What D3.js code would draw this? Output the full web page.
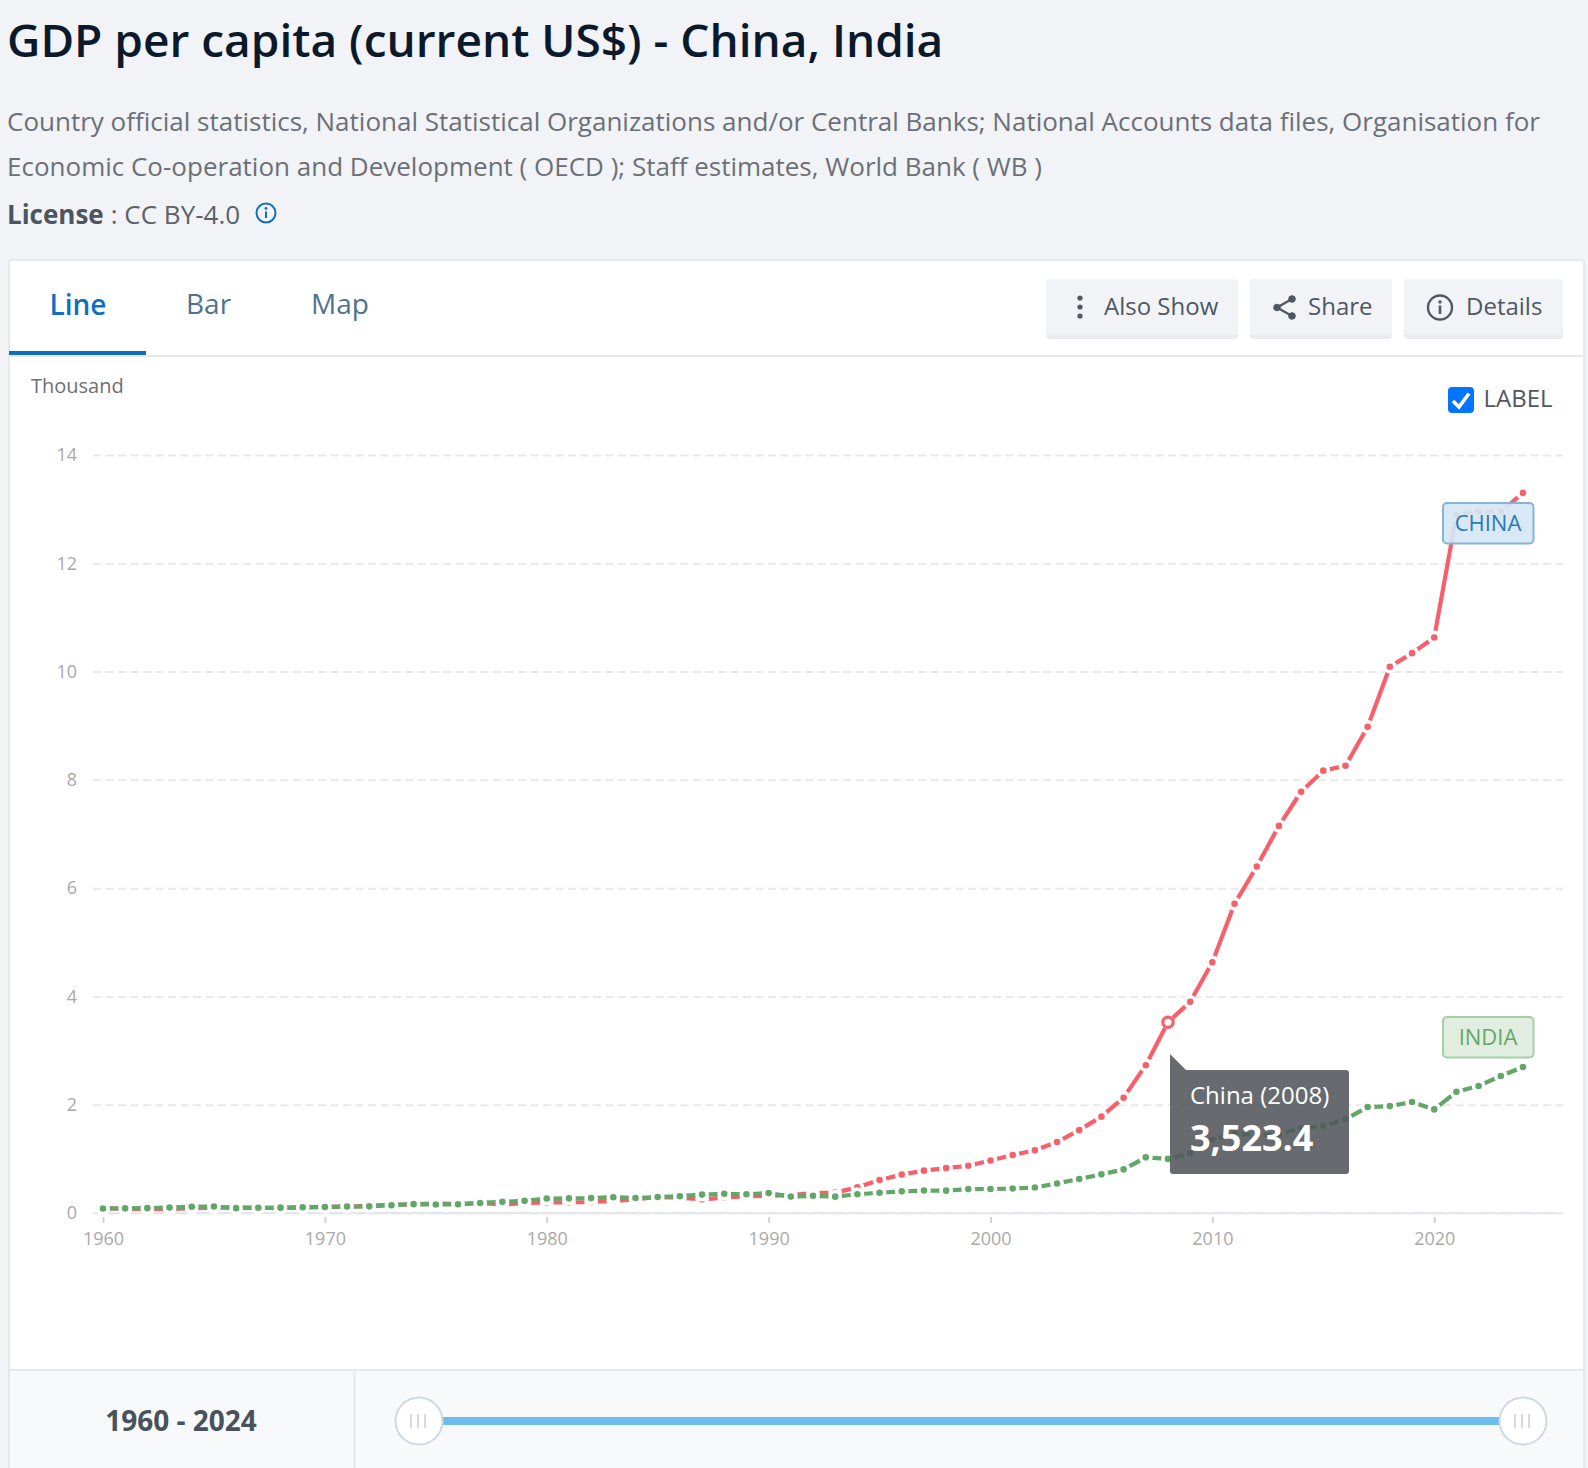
<!DOCTYPE html>
<html>
<head>
<meta charset="utf-8">
<script src="https://cdn.jsdelivr.net/npm/d3@7"></script>
<style>
html,body{margin:0;padding:0;background:#f1f3f7;overflow:hidden}
svg{display:block}
text{font-family:"Open Sans",sans-serif}
</style>
</head>
<body>
<svg id="c" width="1588" height="1468"></svg>
<script>
const years = d3.range(1960, 2025);
const chinaValues = [0.090,0.076,0.071,0.074,0.086,0.099,0.104,0.097,0.092,0.100,0.113,0.119,0.132,0.157,0.160,0.178,0.165,0.185,0.156,0.184,0.195,0.197,0.203,0.225,0.251,0.295,0.283,0.252,0.284,0.311,0.318,0.333,0.367,0.377,0.474,0.610,0.709,0.782,0.829,0.873,0.970,1.070,1.160,1.310,1.530,1.780,2.130,2.730,3.5234,3.900,4.630,5.710,6.400,7.150,7.780,8.170,8.260,8.980,10.090,10.340,10.630,12.890,12.960,12.950,13.300];
const indiaValues = [0.083,0.086,0.090,0.101,0.116,0.119,0.090,0.096,0.099,0.107,0.112,0.119,0.123,0.144,0.163,0.158,0.161,0.186,0.206,0.224,0.267,0.271,0.275,0.292,0.277,0.296,0.310,0.340,0.355,0.346,0.368,0.303,0.317,0.302,0.346,0.374,0.400,0.415,0.413,0.441,0.443,0.452,0.471,0.546,0.627,0.714,0.806,1.028,0.999,1.102,1.358,1.458,1.444,1.450,1.574,1.606,1.733,1.957,1.974,2.050,1.913,2.239,2.347,2.530,2.697];
const xTicks = [1960,1970,1980,1990,2000,2010,2020];
const yTicks = [0,2,4,6,8,10,12,14];
const tabs = ["Line","Bar","Map"];
const descLines = ["Country official statistics, National Statistical Organizations and/or Central Banks; National Accounts data files, Organisation for","Economic Co-operation and Development ( OECD ); Staff estimates, World Bank ( WB )"];

const svg = d3.select("#c");
const FONT = '"Open Sans",sans-serif';
const txt = (g,s,x,y,size,fill,weight,anchor)=>g.append("text").text(s).attr("x",x).attr("y",y)
  .attr("font-size",size).attr("fill",fill).attr("font-weight",weight||400).attr("text-anchor",anchor||"start");

// page header
svg.append("rect").attr("width",1588).attr("height",1468).attr("fill","#f1f3f7");
txt(svg,"GDP per capita (current US$) - China, India",7,57,46,"#0b1a2b",600);
txt(svg,descLines[0],7,131,26,"#6b7076");
txt(svg,descLines[1],7,176,26,"#6b7076");
txt(svg,"License",7,224,26,"#4a5560",700);
txt(svg," : CC BY-4.0",104,224,26,"#5b6269").attr("xml:space","preserve");
const info = svg.append("g").attr("transform","translate(266,213)");
info.append("circle").attr("r",9.5).attr("fill","none").attr("stroke","#1170c0").attr("stroke-width",2);
info.append("circle").attr("cy",-4.5).attr("r",1.4).attr("fill","#1170c0");
info.append("line").attr("y1",-1.5).attr("y2",5).attr("stroke","#1170c0").attr("stroke-width",2);

// card
svg.append("rect").attr("x",9).attr("y",260).attr("width",1575).attr("height",1220).attr("rx",3)
  .attr("fill","#fff").attr("stroke","#e5e9ed").attr("stroke-width",2);
svg.append("rect").attr("x",9).attr("y",355).attr("width",1575).attr("height",2).attr("fill","#e5e9ed");
svg.append("rect").attr("x",9).attr("y",351).attr("width",137).attr("height",4).attr("fill","#0f6fbf");
txt(svg,tabs[0],49.5,314.500,28,"#0f6fbf",600);
txt(svg,tabs[1],186,314,28,"#4e7290");
txt(svg,tabs[2],311,314,28,"#4e7290");

// buttons
const btn = (x0,x1,label,tx)=>{
  svg.append("rect").attr("x",x0).attr("y",279).attr("width",x1-x0).attr("height",60).attr("rx",4).attr("fill","#e9ebef");
  svg.append("rect").attr("x",x0).attr("y",279).attr("width",x1-x0).attr("height",56).attr("rx",4).attr("fill","#f1f3f7");
  txt(svg,label,tx,315,24,"#4f5862");
};
btn(1046,1238,"Also Show",1104);
btn(1250,1392,"Share",1308);
btn(1404,1563,"Details",1466);
[-9,0,9].forEach(d=>svg.append("circle").attr("cx",1080).attr("cy",307+d).attr("r",2.6).attr("fill","#4f5862"));
const sh = svg.append("g").attr("stroke","#4f5862").attr("fill","#4f5862");
sh.append("path").attr("d","M1292 299L1277 307.5L1292 316").attr("fill","none").attr("stroke-width",2.4);
[[1292,299],[1277,307.5],[1292,316]].forEach(p=>sh.append("circle").attr("cx",p[0]).attr("cy",p[1]).attr("r",3.3));
const inf2 = svg.append("g").attr("transform","translate(1440,307.5)");
inf2.append("circle").attr("r",12).attr("fill","none").attr("stroke","#4f5862").attr("stroke-width",2.4);
inf2.append("circle").attr("cy",-5.5).attr("r",1.7).attr("fill","#4f5862");
inf2.append("line").attr("y1",-2).attr("y2",6.5).attr("stroke","#4f5862").attr("stroke-width",2.6);

// label checkbox + unit
svg.append("rect").attr("x",1448).attr("y",387).attr("width",26).attr("height",26).attr("rx",4).attr("fill","#0075ff");
svg.append("path").attr("d","M1453 401L1459 407L1469 393.500").attr("fill","none").attr("stroke","#fff").attr("stroke-width",3.6);
txt(svg,"LABEL",1483.5,407,24,"#4f5862");
txt(svg,"Thousand",31,393,20,"#6f6f6f");

// scales and axes
const gridLeft = 93, gridRight = 1563;
const x = d3.scaleLinear().domain([1960,2024]).range([103,1523]);
const y = d3.scaleLinear().domain([0,14]).range([1213,455]);

const yAxis = svg.append("g").attr("transform",`translate(${gridLeft},0)`)
  .call(d3.axisLeft(y).tickValues(yTicks).tickFormat(d3.format("d")).tickSize(-(gridRight-gridLeft)).tickPadding(16));
yAxis.select(".domain").remove();
yAxis.selectAll("line").attr("stroke","#e9e9e9").attr("stroke-width",2).attr("stroke-dasharray","8 4.500");
yAxis.selectAll("text").attr("fill","#a9a9a9").attr("font-size",18).attr("font-family",FONT);

const xAxis = svg.append("g").attr("transform","translate(0,1213)")
  .call(d3.axisBottom(x).tickValues(xTicks).tickFormat(d3.format("d")).tickSize(10).tickPadding(9));
xAxis.select(".domain").remove();
xAxis.selectAll("line").attr("y1",4).attr("stroke","#cfd3d8").attr("stroke-width",2);
xAxis.selectAll("text").attr("fill","#a9a9a9").attr("font-size",18).attr("font-family",FONT);
svg.append("line").attr("x1",gridLeft).attr("x2",gridRight).attr("y1",y(0)).attr("y2",y(0)).attr("stroke","#e3e7eb").attr("stroke-width",2);

// series: solid line, each point is a dot with a wide white ring
const line = d3.line().x((d,i)=>x(years[i])).y(d=>y(d));
const series = [{name:"China",values:chinaValues,color:"#f75f6a"},{name:"India",values:indiaValues,color:"#62a767"}];
series.forEach(s=>{
  svg.append("path").attr("d",line(s.values)).attr("fill","none").attr("stroke",s.color).attr("stroke-width",4.2).attr("stroke-linejoin","round");
  svg.append("g").selectAll("circle").data(s.values).join("circle")
    .attr("cx",(d,i)=>x(years[i])).attr("cy",d=>y(d)).attr("r",5.1)
    .attr("fill",s.color).attr("stroke","#fff").attr("stroke-width",3.6);
});
// highlighted point
svg.append("circle").attr("cx",x(2008)).attr("cy",y(chinaValues[years.indexOf(2008)])).attr("r",5.2)
  .attr("fill","#fff").attr("stroke","#f75f6a").attr("stroke-width",3.2);

// end labels
const endLabel = (s,yy,fill,stroke,color)=>{
  svg.append("rect").attr("x",1443).attr("y",yy).attr("width",90.500).attr("height",40.500).attr("rx",4)
    .attr("fill",fill).attr("stroke",stroke).attr("stroke-width",2);
  txt(svg,s,1488,yy+28,22,color,400,"middle");
};
endLabel("CHINA",503,"rgba(213,230,243,0.92)","#86b4d9","#2a7ab8");
endLabel("INDIA",1017,"rgba(223,236,224,0.92)","#a3d1a5","#62a767");

// tooltip
const tipValue = chinaValues[years.indexOf(2008)];
svg.append("path").attr("d","M1170 1054L1186 1070H1346a3 3 0 0 1 3 3V1171a3 3 0 0 1 -3 3H1173a3 3 0 0 1 -3 -3Z").attr("fill","rgba(82,86,92,0.88)");
txt(svg,"China (2008)",1190,1104,24,"#fff");
txt(svg,d3.format(",.1f")(tipValue*1000),1190,1151,36,"#fff",700);

// footer
svg.append("rect").attr("x",10).attr("y",1370).attr("width",1573).attr("height",98).attr("fill","#f7f9fb");
svg.append("rect").attr("x",9).attr("y",1369).attr("width",1575).attr("height",2).attr("fill","#e5e9ed");
svg.append("rect").attr("x",353.500).attr("y",1370).attr("width",2).attr("height",98).attr("fill","#e5e9ed");
txt(svg,"1960 - 2024",181,1431,28,"#49525b",700,"middle");
const sx = d3.scaleLinear().domain([1960,2024]).range([419,1523]);
svg.append("line").attr("x1",sx(1960)).attr("x2",sx(2024)).attr("y1",1421).attr("y2",1421).attr("stroke","#6cbcf0").attr("stroke-width",8);
[1960,2024].forEach(v=>{
  const g = svg.append("g").attr("transform",`translate(${sx(v)},1421)`);
  g.append("circle").attr("r",23.500).attr("fill","#fff").attr("stroke","#cfd8e3").attr("stroke-width",2);
  [-7,0,7].forEach(d=>g.append("line").attr("x1",d-1).attr("x2",d-1).attr("y1",-7).attr("y2",7).attr("stroke","#d9d9d9").attr("stroke-width",2));
});
</script>
</body>
</html>
